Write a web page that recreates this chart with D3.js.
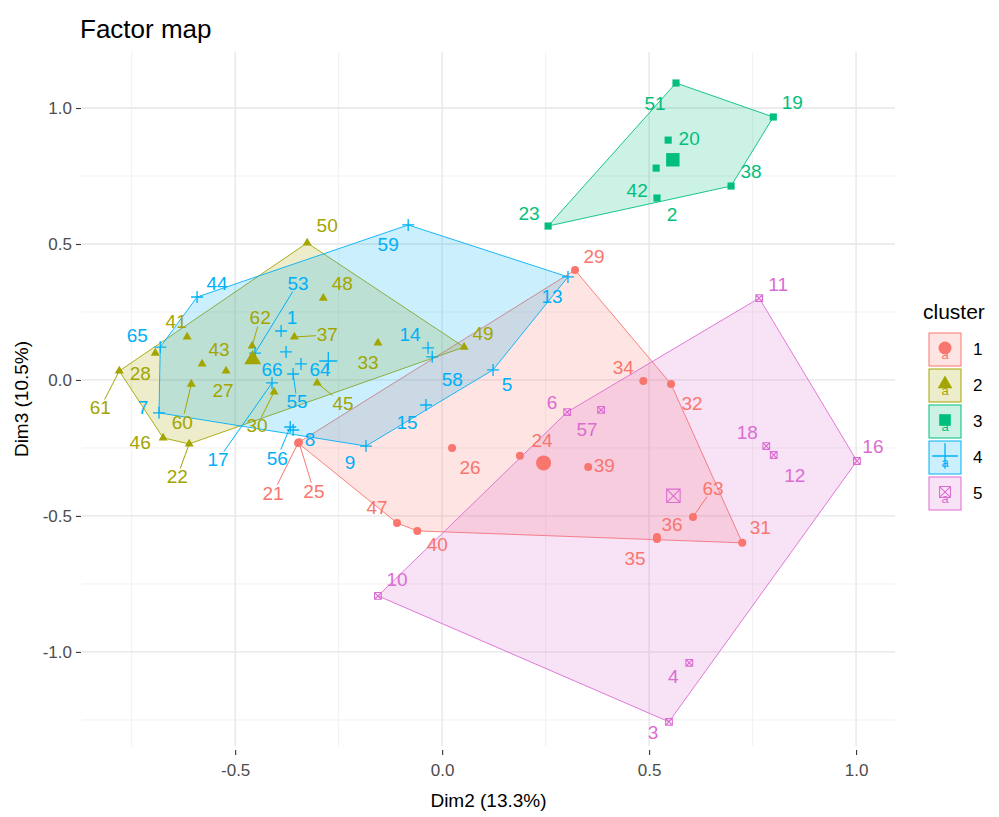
<!DOCTYPE html>
<html><head><meta charset="utf-8">
<script src="https://cdn.jsdelivr.net/npm/d3@7"></script>
<style>
body{margin:0;background:#fff}
svg{display:block}
text{font-family:"Liberation Sans",Arial,Helvetica,sans-serif}
</style>
</head><body>
<svg id="chart" width="999" height="817"></svg>
<script>
// ---------------- data ----------------
const clusterNames = ["1","2","3","4","5"];
const clusterColors = ["#F8766D","#A3A500","#00BF7D","#00B0F6","#DC6CD2"];

const ids     = [29,34,32,31,63,36,35,24,39,26,47,40,21,25,
                 50,48,41,28,61,43,27,60,46,22,62,30,37,45,33,49,
                 51,19,38,2,23,20,42,
                 59,13,44,65,7,53,1,66,64,55,17,56,8,14,58,5,15,9,
                 11,16,18,12,57,6,10,3,4];
const dim2    = [0.321,0.486,0.553,0.725,0.606,0.519,0.519,0.188,0.353,0.024,-0.109,-0.060,-0.348,-0.346,
                 -0.326,-0.287,-0.616,-0.693,-0.780,-0.580,-0.522,-0.606,-0.674,-0.611,-0.459,-0.406,-0.357,-0.302,-0.155,0.053,
                 0.565,0.800,0.698,0.519,0.256,0.546,0.517,
                 -0.082,0.304,-0.592,-0.681,-0.684,-0.452,-0.389,-0.377,-0.341,-0.360,-0.411,-0.367,-0.360,-0.034,-0.024,0.123,-0.039,-0.184,
                 0.766,1.002,0.783,0.801,0.384,0.302,-0.155,0.548,0.597];
const dim3    = [0.404,-0.004,-0.015,-0.599,-0.504,-0.577,-0.585,-0.279,-0.320,-0.250,-0.526,-0.555,-0.232,-0.229,
                 0.504,0.301,0.158,0.099,0.033,0.059,0.033,-0.015,-0.213,-0.235,0.125,-0.044,0.158,-0.011,0.136,0.121,
                 1.092,0.967,0.713,0.669,0.566,0.882,0.779,
                 0.570,0.379,0.305,0.121,-0.121,0.099,0.180,0.103,0.059,0.022,-0.011,-0.173,-0.184,0.118,0.085,0.037,-0.092,-0.243,
                 0.301,-0.298,-0.243,-0.276,-0.110,-0.118,-0.794,-1.257,-1.040];
const cluster = [1,1,1,1,1,1,1,1,1,1,1,1,1,1,
                 2,2,2,2,2,2,2,2,2,2,2,2,2,2,2,2,
                 3,3,3,3,3,3,3,
                 4,4,4,4,4,4,4,4,4,4,4,4,4,4,4,4,4,4,
                 5,5,5,5,5,5,5,5,5];

const xTicks = [-0.5, 0.0, 0.5, 1.0];
const yTicks = [-1.0, -0.5, 0.0, 0.5, 1.0];
const xMinor = [-0.75, -0.25, 0.25, 0.75];
const yMinor = [-1.25, -0.75, -0.25, 0.25, 0.75];

// ---------------- label layout (pixel offsets, as placed in the picture) ----------------
const labelLayout = {
  29:[19,-14],34:[-20,-14],32:[21,19],31:[18,-15],63:[20,-29,1],36:[15,-12],35:[-22,19],24:[22,-15],
  39:[16,-1],26:[18,20],47:[-20,-16],40:[20,14],21:[-25,50,1],25:[15,49,1],
  50:[20,-17],48:[19,-15],41:[-11,-15],28:[-15,20],61:[-19,37,1],43:[17,-14],27:[-3,20],60:[-9,38,1],
  46:[-23,5],22:[-12,33,1],62:[8,-28,1],30:[-17,34,1],37:[33,-2,1],45:[26,21,1],33:[-10,20],49:[19,-14],
  51:[-21,20],19:[19,-14],38:[20,-15],2:[15,16],23:[-19,-13],20:[21,-2],42:[-19,22],
  59:[-20,20],13:[-16,20],44:[20,-14],65:[-23,-12],7:[-16,-5],53:[43,-70,1],1:[11,-14],66:[-14,18],
  64:[19,6],55:[4,28,1],17:[-54,77,1],56:[-13,31,1],8:[17,9],14:[-18,-13],58:[20,23],5:[14,15],15:[-19,18],9:[-16,16],
  11:[19,-14],16:[16,-15],18:[-19,-14],12:[21,20],57:[-14,20],6:[-15,-10],10:[19,-16],3:[-16,11],4:[-16,14]
};

// ---------------- chart ----------------
const svg = d3.select("#chart");
const panel = {left:82, right:895, top:52, bottom:746};

const x = d3.scaleLinear().domain([-0.87, 1.094]).range([panel.left, panel.right]);
const y = d3.scaleLinear().domain([-1.346, 1.206]).range([panel.bottom, panel.top]);

const pts = ids.map((id,i)=>({id, x:dim2[i], y:dim3[i], c:cluster[i]}));

// grid
const grid = svg.append("g");
grid.selectAll(".vmin").data(xMinor).join("line")
  .attr("x1",d=>x(d)).attr("x2",d=>x(d)).attr("y1",panel.top).attr("y2",panel.bottom)
  .attr("stroke","#ededed").attr("stroke-width",0.8);
grid.selectAll(".hmin").data(yMinor).join("line")
  .attr("y1",d=>y(d)).attr("y2",d=>y(d)).attr("x1",panel.left).attr("x2",panel.right)
  .attr("stroke","#ededed").attr("stroke-width",0.8);
grid.selectAll(".vmaj").data(xTicks).join("line")
  .attr("x1",d=>x(d)).attr("x2",d=>x(d)).attr("y1",panel.top).attr("y2",panel.bottom)
  .attr("stroke","#e6e6e6").attr("stroke-width",1.3);
grid.selectAll(".hmaj").data(yTicks).join("line")
  .attr("y1",d=>y(d)).attr("y2",d=>y(d)).attr("x1",panel.left).attr("x2",panel.right)
  .attr("stroke","#e6e6e6").attr("stroke-width",1.3);

// axes
const fmt = d => d3.format(".1f")(d).replace("\u2212","-");
const xAxis = d3.axisBottom(x).tickValues(xTicks).tickFormat(fmt).tickSize(5).tickPadding(9);
const yAxis = d3.axisLeft(y).tickValues(yTicks).tickFormat(fmt).tickSize(5).tickPadding(4);
const gx = svg.append("g").attr("transform",`translate(0,${panel.bottom+4})`).call(xAxis);
const gy = svg.append("g").attr("transform",`translate(${panel.left-1},0)`).call(yAxis);
[gx,gy].forEach(g=>{
  g.select(".domain").remove();
  g.selectAll(".tick line").attr("stroke","#333").attr("stroke-width",1.1);
  g.selectAll(".tick text").attr("fill","#4d4d4d").style("font-size","17px")
    .style("font-family",'"Liberation Sans",Arial,sans-serif');
});

// hulls
const hullG = svg.append("g");
clusterNames.forEach((cn,k)=>{
  const cp = pts.filter(p=>p.c===k+1).map(p=>[x(p.x),y(p.y)]);
  const hull = d3.polygonHull(cp);
  hullG.append("path")
    .attr("d","M"+hull.map(p=>p.join(",")).join("L")+"Z")
    .attr("fill",clusterColors[k]).attr("fill-opacity",0.2)
    .attr("stroke",clusterColors[k]).attr("stroke-width",0.9);
});

// symbols
function symbolPath(c, s){
  if(c===1){ return d3.symbol(d3.symbolCircle, Math.PI*s*s/4)(); }
  if(c===2){ return d3.symbol(d3.symbolTriangle, s*s*0.55)(); }
  if(c===3){ return d3.symbol(d3.symbolSquare, s*s*0.8)(); }
  if(c===4){ const h=s*0.75; return `M${-h},0L${h},0M0,${-h}L0,${h}`; }
  const h=s*0.42; return `M${-h},${-h}L${h},${-h}L${h},${h}L${-h},${h}Z M${-h},${-h}L${h},${h}M${h},${-h}L${-h},${h}`;
}
function drawSym(g, c, s, cx, cy){
  const col = clusterColors[c-1];
  const p = g.append("path").attr("d",symbolPath(c,s)).attr("transform",`translate(${cx},${cy})`);
  if(c===4) p.attr("fill","none").attr("stroke",col).attr("stroke-width",1.3);
  else if(c===5) p.attr("fill","none").attr("stroke",col).attr("stroke-width",1.1);
  else p.attr("fill",col);
  return p;
}

const ptG = svg.append("g");
pts.forEach(p=>drawSym(ptG, p.c, 8, x(p.x), y(p.y)));

// centroids (cluster means)
clusterNames.forEach((cn,k)=>{
  const cp = pts.filter(p=>p.c===k+1);
  const mx = d3.mean(cp,p=>p.x), my = d3.mean(cp,p=>p.y);
  drawSym(ptG, k+1, k===3?12:(k===4?16:15), x(mx), y(my));
});

// labels
const labG = svg.append("g");
pts.forEach(p=>{
  const L = labelLayout[p.id] || [15,-14];
  const px = x(p.x), py = y(p.y);
  const lx = px+L[0], ly = py+L[1];
  const col = clusterColors[p.c-1];
  const t = labG.append("text").attr("x",lx).attr("y",ly)
    .attr("text-anchor","middle").attr("dominant-baseline","central")
    .attr("fill",col).style("font-size","19px").text(p.id);
  if(L[2]){
    const bb = t.node().getBBox();
    const hw = bb.width/2+1, hh = bb.height/2-2;
    const dx = px-lx, dy = py-ly;
    const tt = Math.min(Math.abs(dx)>0?hw/Math.abs(dx):1e9, Math.abs(dy)>0?hh/Math.abs(dy):1e9);
    const ex = lx+dx*tt, ey = ly+dy*tt;
    labG.insert("line","text").attr("x1",px).attr("y1",py).attr("x2",ex).attr("y2",ey)
      .attr("stroke",col).attr("stroke-width",1);
  }
});

// title & axis titles
svg.append("text").attr("x",80).attr("y",38).attr("fill","#000")
  .style("font-size","26px").text("Factor map");
svg.append("text").attr("x",(panel.left+panel.right)/2).attr("y",807).attr("text-anchor","middle")
  .attr("fill","#000").style("font-size","19px").text("Dim2 (13.3%)");
svg.append("text").attr("transform",`translate(28,${(panel.top+panel.bottom)/2}) rotate(-90)`)
  .attr("text-anchor","middle").attr("fill","#000").style("font-size","19px").text("Dim3 (10.5%)");

// legend
const lg = svg.append("g");
lg.append("text").attr("x",923).attr("y",319).attr("fill","#000").style("font-size","21px").text("cluster");
clusterNames.forEach((cn,k)=>{
  const cy = 349 + k*36;
  const col = clusterColors[k];
  lg.append("rect").attr("x",929).attr("y",cy-16).attr("width",32).attr("height",33)
    .attr("fill",col).attr("fill-opacity",0.2).attr("stroke",col).attr("stroke-width",1);
  lg.append("text").attr("x",945).attr("y",cy+5).attr("text-anchor","middle")
    .attr("dominant-baseline","central").attr("fill",col).style("font-size","13px").text("a");
  drawSym(lg, k+1, k===3?17:13, 945, cy-1);
  lg.append("text").attr("x",973).attr("y",cy).attr("dominant-baseline","central")
    .attr("fill","#000").style("font-size","17px").text(cn);
});
</script>
</body></html>
